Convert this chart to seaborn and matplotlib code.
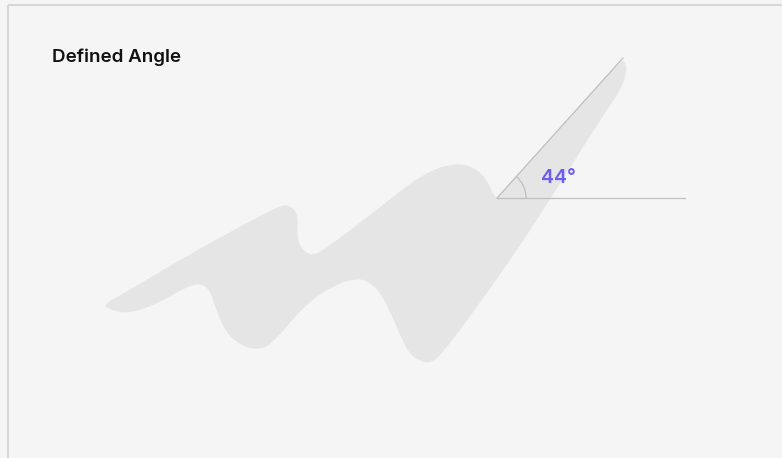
import numpy as np
import matplotlib
matplotlib.use("Agg")
import matplotlib.pyplot as plt
from matplotlib.patches import Arc, PathPatch
from matplotlib.path import Path
import seaborn as sns

sns.set_style("white")
plt.rcParams['font.family'] = ['Inter', 'DejaVu Sans']

# outline of the shaded shape, pixel coordinates (x right, y down)
shape_x = [104, 130, 183, 243, 279, 289, 296, 298, 297, 301, 311, 324, 373, 423,
           458, 479, 489, 494, 497, 497, 560, 619, 624, 627, 622, 600, 537, 510, 487,
           443, 430, 415, 405, 384, 370, 356, 330, 303, 273, 259, 242, 226, 215,
           210, 200, 186, 157, 128, 108]
shape_y = [304, 290, 258, 225, 206, 205, 211, 221, 237, 248, 256, 250, 213, 173,
           162, 170, 184, 196, 198, 198, 128, 63, 60, 70, 88, 120, 220, 260, 293,
           353, 364, 359, 347, 297, 282, 278, 287, 307, 343, 350, 346, 333, 307,
           290, 283, 287, 304, 314, 309]

vertex = (497, 198)
ray_end = (623, 58)
base_end = (685, 198)
angle_label = "44°"
title = "Defined Angle"

fig = plt.figure(figsize=(7.82, 4.58), dpi=100)
fig.patch.set_facecolor('#f4f5f4')
ax = fig.add_axes([0, 0, 1, 1])
ax.set_facecolor('#f4f5f4')
ax.set_xlim(0, 782)
ax.set_ylim(458, 0)
ax.axis('off')

# frame
ax.plot([8, 782], [5, 5], color='#d6d7d6', lw=1.5, solid_capstyle='butt')
ax.plot([8, 8], [5, 458], color='#d6d7d6', lw=1.5, solid_capstyle='butt')

# smooth closed outline: quadratic curves through edge midpoints
pts = np.column_stack([shape_x, shape_y]).astype(float)
mids = (pts + np.roll(pts, -1, axis=0)) / 2
verts = [mids[-1]]
codes = [Path.MOVETO]
for i in range(len(pts)):
    verts += [pts[i], mids[i]]
    codes += [Path.CURVE3, Path.CURVE3]
verts.append(mids[-1])
codes.append(Path.CLOSEPOLY)
ax.add_patch(PathPatch(Path(verts, codes), facecolor='#e4e5e4', lw=0))

ax.plot([vertex[0], base_end[0]], [vertex[1], base_end[1]], color='#bdbebd', lw=0.9)
ax.plot([vertex[0], ray_end[0]], [vertex[1], ray_end[1]], color='#bdbebd', lw=0.9)

ang = np.degrees(np.arctan2(vertex[1] - ray_end[1], ray_end[0] - vertex[0]))
arc = Arc(vertex, 58, 58, theta1=-ang, theta2=0, color='#bdbebd', lw=0.9)
ax.add_patch(arc)

ax.text(541, 178, angle_label, color='#6c5cf2', fontsize=14, fontweight='semibold',
        va='center', ha='left')
ax.text(52, 57, title, color='#111111', fontsize=13.5, fontweight='semibold',
        va='center', ha='left')

fig.savefig('out.png', dpi=100, facecolor=fig.get_facecolor())
